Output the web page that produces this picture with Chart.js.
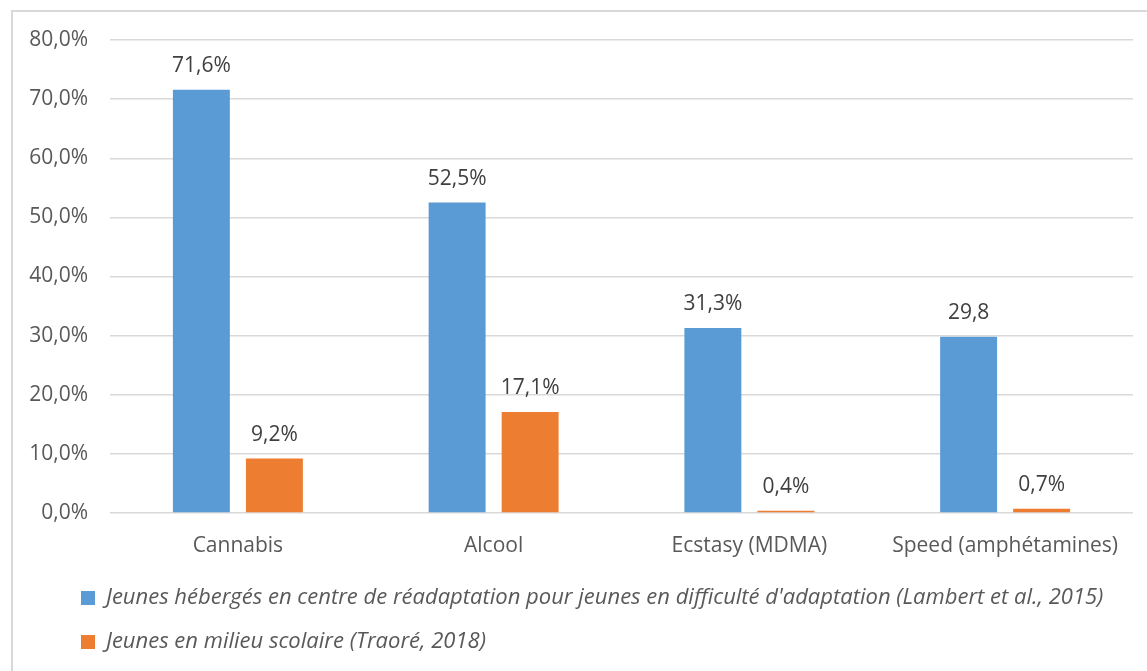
<!DOCTYPE html>
<html>
<head>
<meta charset="utf-8">
<script src="https://cdn.jsdelivr.net/npm/chart.js@4"></script>
<style>
  html, body { margin: 0; padding: 0; background: #fff; overflow: hidden; }
  #frame { position: absolute; left: 11px; top: 10px; width: 2000px; height: 2000px;
           border-left: 2px solid #d9d9d9; border-top: 2px solid #d9d9d9; }
  #chart { position: absolute; left: 0; top: 0; }
</style>
</head>
<body>
<div id="frame"></div>
<canvas id="chart" width="1147" height="671"></canvas>
<script>
const categories = ['Cannabis', 'Alcool', 'Ecstasy (MDMA)', 'Speed (amphétamines)'];
const seriesNames = [
  "Jeunes hébergés en centre de réadaptation pour jeunes en difficulté d'adaptation (Lambert et al., 2015)",
  'Jeunes en milieu scolaire (Traoré, 2018)',
];
const centreValues = [71.6, 52.5, 31.3, 29.8];
const scolaireValues = [9.2, 17.1, 0.4, 0.7];
// labels as printed on the chart (the last blue one has no %)
const centreLabels = ['71,6%', '52,5%', '31,3%', '29,8'];
const scolaireLabels = ['9,2%', '17,1%', '0,4%', '0,7%'];

const FONT = "'Open Sans', sans-serif";
const TEXT = '#595959';

// draws the value above each bar
const valueLabels = {
  id: 'valueLabels',
  afterDatasetsDraw(chart) {
    const ctx = chart.ctx;
    ctx.save();
    ctx.font = `21px ${FONT}`;
    ctx.fillStyle = '#404040';
    ctx.textAlign = 'center';
    ctx.textBaseline = 'alphabetic';
    chart.data.datasets.forEach((ds, di) => {
      const meta = chart.getDatasetMeta(di);
      meta.data.forEach((bar, i) => {
        ctx.fillText(ds.valueText[i], bar.x, bar.y - 18);
      });
    });
    ctx.restore();
  },
};

// legend sits further right than the y labels
const legendShift = {
  id: 'legendShift',
  afterLayout(chart) {
    chart.legend.left += 37;
  },
};

new Chart(document.getElementById('chart').getContext('2d'), {
  type: 'bar',
  data: {
    labels: categories,
    datasets: [
      {
        label: seriesNames[0],
        data: centreValues,
        valueText: centreLabels,
        backgroundColor: '#5b9bd5',
        borderWidth: 0,
      },
      {
        label: seriesNames[1],
        data: scolaireValues,
        valueText: scolaireLabels,
        backgroundColor: '#ed7d31',
        borderWidth: 0,
      },
    ],
  },
  options: {
    responsive: false,
    animation: false,
    categoryPercentage: 0.571,
    barPercentage: 0.78,
    layout: { padding: { left: 22, right: 14, top: 40, bottom: 8 } },
    plugins: {
      tooltip: { enabled: false },
      legend: {
        position: 'bottom',
        align: 'start',
        labels: {
          boxWidth: 14,
          boxHeight: 14,
          padding: 22,
          color: TEXT,
          font: { family: FONT, size: 22, style: 'italic' },
        },
      },
    },
    scales: {
      x: {
        grid: { display: false },
        border: { display: false },
        ticks: { color: TEXT, padding: 12, font: { family: FONT, size: 21 } },
        afterFit(scale) { scale.height = 52; },
      },
      y: {
        min: 0,
        max: 80,
        grid: { color: '#d9d9d9', lineWidth: 1.5, drawTicks: false },
        border: { display: false },
        ticks: {
          stepSize: 10,
          padding: 22,
          color: TEXT,
          font: { family: FONT, size: 21 },
          callback: (v) => v.toFixed(1).replace('.', ',') + '%',
        },
        afterFit(scale) { scale.width = 88; },
      },
    },
  },
  plugins: [valueLabels, legendShift],
});
</script>
</body>
</html>
